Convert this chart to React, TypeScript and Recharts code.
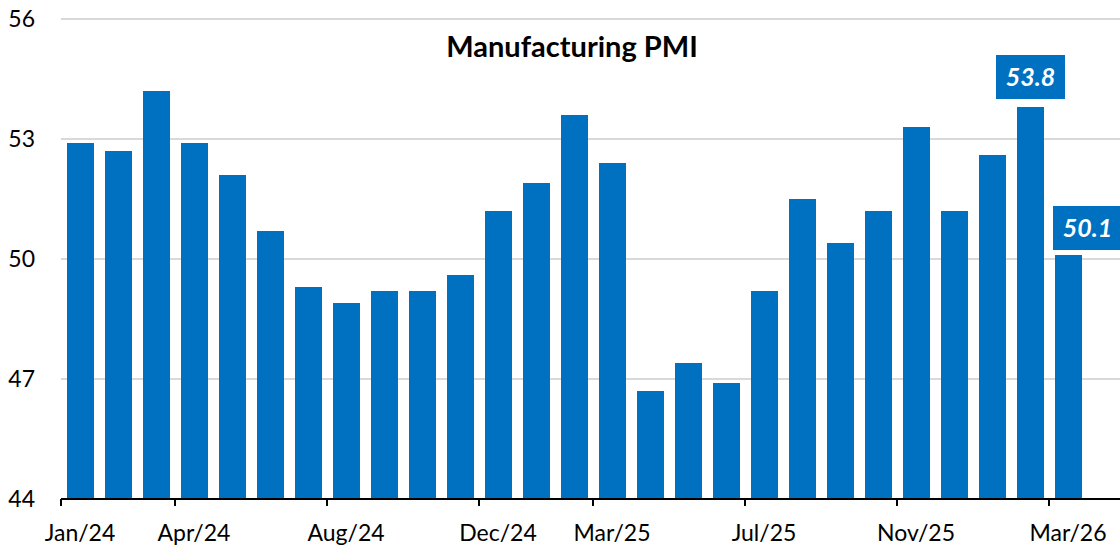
import React from "react";
import { BarChart, Bar, XAxis, YAxis, CartesianGrid } from "recharts";

const MONTHS = [
  "Jan/24", "Feb/24", "Mar/24", "Apr/24", "May/24", "Jun/24", "Jul/24", "Aug/24", "Sep/24",
  "Oct/24", "Nov/24", "Dec/24", "Jan/25", "Feb/25", "Mar/25", "Apr/25", "May/25", "Jun/25",
  "Jul/25", "Aug/25", "Sep/25", "Oct/25", "Nov/25", "Dec/25", "Jan/26", "Feb/26", "Mar/26",
];

const PMI = [
  52.9, 52.7, 54.2, 52.9, 52.1, 50.7, 49.3, 48.9, 49.2,
  49.2, 49.6, 51.2, 51.9, 53.6, 52.4, 46.7, 47.4, 46.9,
  49.2, 51.5, 50.4, 51.2, 53.3, 51.2, 52.6, 53.8, 50.1,
];

const SHOWN_TICKS = ["Jan/24", "Apr/24", "Aug/24", "Dec/24", "Mar/25", "Jul/25", "Nov/25", "Mar/26"];
const Y_TICKS = [44, 47, 50, 53, 56];
const LABELLED = ["Feb/26", "Mar/26"];

const BLUE = "#0070C0";
const FONT = "Lato, 'Open Sans', sans-serif";

const data = MONTHS.map((m, i) => ({ month: m, pmi: PMI[i] }));

// ticks sit on the left edge of each category, labels stay centred
const MonthTick = (props: any) => {
  const { x, y, payload } = props;
  if (!SHOWN_TICKS.includes(payload.value)) return null;
  const half = payload.offset || 19;
  return (
    <g>
      <line x1={x - half} x2={x - half} y1={y} y2={y + 7} stroke="#000" strokeWidth={2} />
      <text x={x} y={y + 42} textAnchor="middle" fill="#000" fontSize={23} fontFamily={FONT}>
        {payload.value}
      </text>
    </g>
  );
};

const renderLabel = (props: any) => {
  const { x, y, width, value, index } = props;
  if (!LABELLED.includes(MONTHS[index])) return null;
  // last label was nudged right in the original
  const shift = index === MONTHS.length - 1 ? 19 : 0;
  const gap = index === MONTHS.length - 1 ? 5 : 8;
  const cx = x + width / 2 + shift;
  const w = 69;
  const h = 44;
  return (
    <g>
      <rect x={cx - w / 2} y={y - gap - h} width={w} height={h} fill={BLUE} />
      <text
        x={cx}
        y={y - gap - h / 2}
        dy="0.36em"
        textAnchor="middle"
        fill="#fff"
        fontSize={25}
        fontWeight={700}
        fontStyle="italic"
        fontFamily={FONT}
      >
        {Number(value).toFixed(1)}
      </text>
    </g>
  );
};

export default function App() {
  return (
    <div style={{ position: "absolute", left: 0, top: 0, width: 1120, height: 546, overflow: "hidden", background: "#fff" }}>
      <BarChart
        width={1120}
        height={546}
        data={data}
        margin={{ top: 19, right: 0, left: 0, bottom: 0 }}
        barSize={27}
      >
        <CartesianGrid horizontal vertical={false} stroke="#d9d9d9" strokeWidth={2} />
        <XAxis
          dataKey="month"
          interval={0}
          height={47}
          padding={{ left: 0, right: 33 }}
          axisLine={{ stroke: "#000", strokeWidth: 2 }}
          tickLine={false}
          tickSize={0}
          tickMargin={0}
          tick={<MonthTick />}
        />
        <YAxis
          domain={[44, 56]}
          ticks={Y_TICKS}
          width={61}
          axisLine={false}
          tickLine={false}
          tickSize={0}
          tickMargin={26}
          tick={{ fill: "#000", fontSize: 23, fontFamily: FONT }}
        />
        <Bar dataKey="pmi" fill={BLUE} isAnimationActive={false} label={renderLabel} />
        <text x={572} y={57} textAnchor="middle" fontSize={29} fontWeight={700} fontFamily={FONT} fill="#000">
          Manufacturing PMI
        </text>
      </BarChart>
    </div>
  );
}
